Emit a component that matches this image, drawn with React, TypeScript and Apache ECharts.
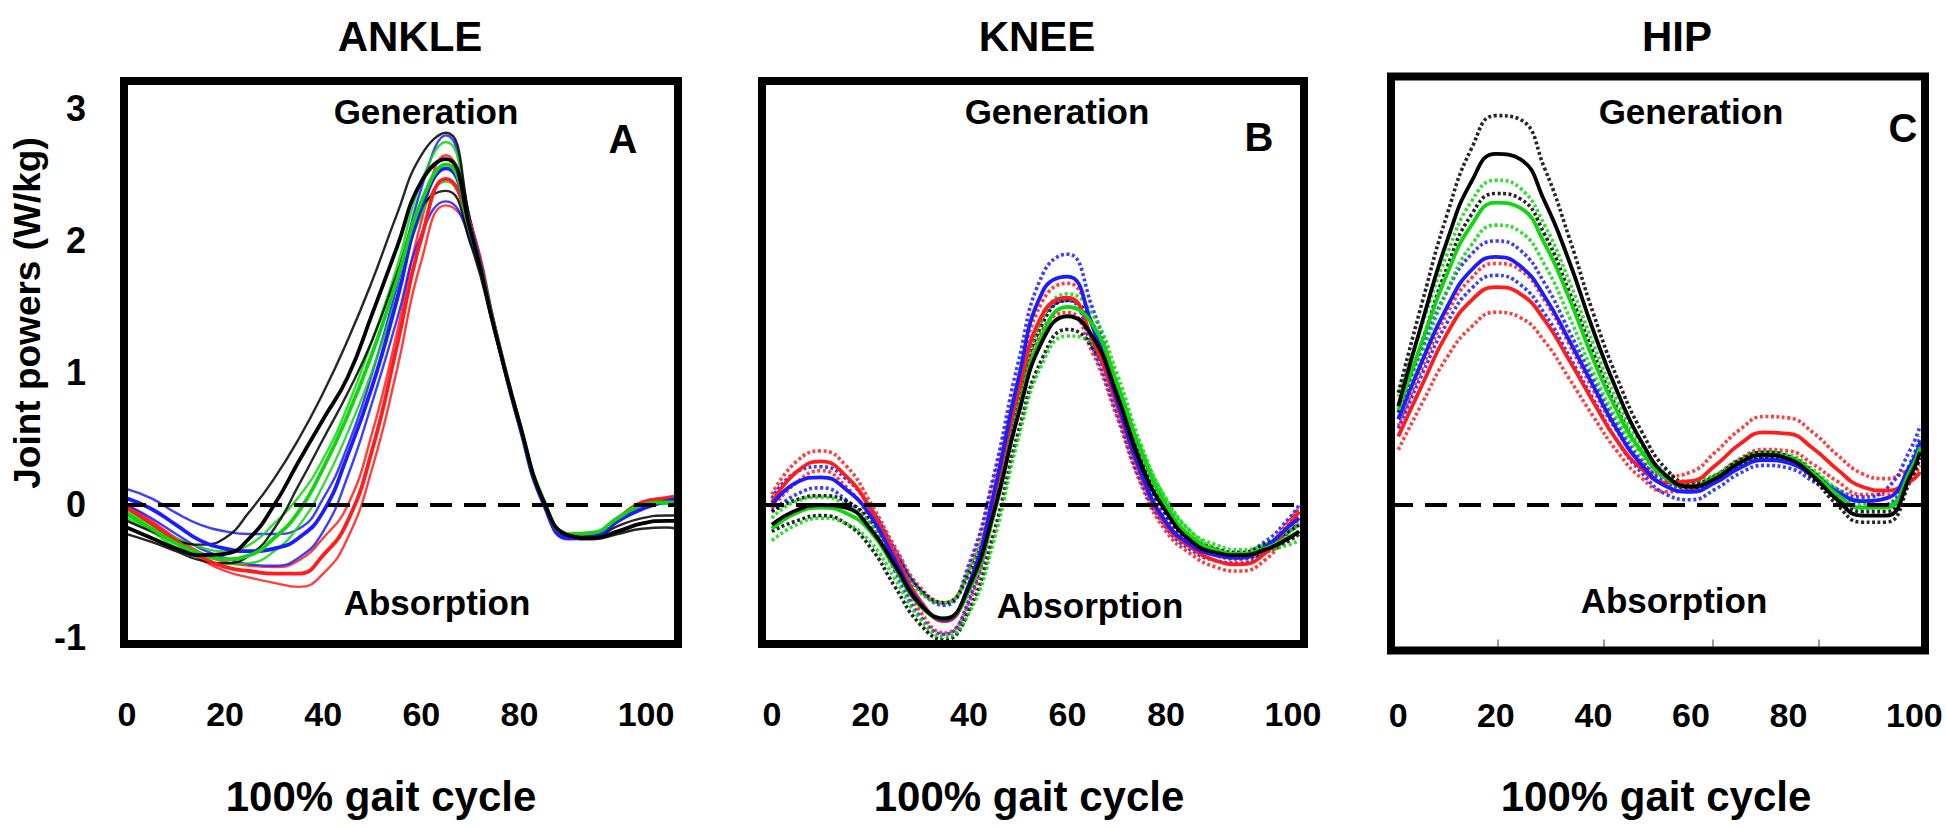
import React, { useEffect, useRef } from "react";
import * as echarts from "echarts";

// ---------- DATA ----------
const ankleX = [0, 5, 10, 15, 20, 25, 30, 35, 40, 45, 50, 55, 60, 65, 70, 75, 80, 85, 90, 95, 100, 105, 110, 112];
const kneeHipX = [0, 5, 10, 15, 20, 25, 30, 35, 40, 45, 50, 55, 60, 65, 70, 75, 80, 85, 90, 95, 100, 105, 107];

const xTickLabels = [0, 20, 40, 60, 80, 100];
const yTickLabels = [-1, 0, 1, 2, 3];
const hipInnerTicks = [20.3, 42.2, 64.4, 86.3];

const ankleBlackU = [-0.12, -0.2, -0.27, -0.3, -0.25, -0.05, 0.2, 0.5, 0.85, 1.25, 1.7, 2.2, 2.65, 2.82, 2.15, 1.35, 0.62, 0.03, -0.22, -0.24, -0.16, -0.1, -0.08, -0.08];
const ankleBlackM = [-0.17, -0.25, -0.33, -0.38, -0.37, -0.25, 0.0, 0.33, 0.65, 0.97, 1.45, 1.95, 2.45, 2.62, 2.08, 1.32, 0.62, 0.02, -0.23, -0.25, -0.2, -0.14, -0.12, -0.12];
const ankleBlackL = [-0.22, -0.28, -0.35, -0.42, -0.44, -0.38, -0.18, 0.15, 0.5, 0.85, 1.25, 1.75, 2.25, 2.38, 1.98, 1.3, 0.6, 0.02, -0.24, -0.26, -0.22, -0.18, -0.17, -0.18];
const ankleGreenU = [-0.05, -0.15, -0.25, -0.32, -0.35, -0.3, -0.14, 0.06, 0.35, 0.75, 1.25, 1.8, 2.45, 2.75, 2.12, 1.34, 0.62, 0.03, -0.22, -0.22, -0.12, -0.02, 0.03, 0.04];
const ankleGreenM = [-0.07, -0.18, -0.29, -0.37, -0.41, -0.38, -0.25, -0.05, 0.28, 0.68, 1.15, 1.7, 2.3, 2.58, 2.08, 1.33, 0.62, 0.03, -0.22, -0.21, -0.1, 0.0, 0.02, 0.02];
const ankleGreenL = [-0.1, -0.2, -0.32, -0.4, -0.45, -0.44, -0.35, -0.16, 0.15, 0.55, 1.02, 1.58, 2.2, 2.45, 2.05, 1.32, 0.62, 0.03, -0.23, -0.22, -0.11, -0.02, 0.01, 0.01];
const ankleBlueU = [0.12, 0.05, -0.06, -0.15, -0.2, -0.22, -0.22, -0.18, 0.05, 0.45, 1.0, 1.65, 2.4, 2.8, 2.15, 1.35, 0.6, 0.0, -0.25, -0.24, -0.12, -0.02, 0.04, 0.06];
const ankleBlueM = [0.05, -0.03, -0.15, -0.27, -0.33, -0.35, -0.33, -0.25, -0.05, 0.38, 0.9, 1.55, 2.25, 2.55, 2.1, 1.33, 0.6, 0.0, -0.25, -0.24, -0.12, -0.03, 0.03, 0.04];
const ankleBlueL = [0.0, -0.1, -0.22, -0.33, -0.4, -0.45, -0.46, -0.4, -0.2, 0.22, 0.78, 1.4, 2.05, 2.3, 2.0, 1.3, 0.6, 0.0, -0.26, -0.25, -0.13, -0.03, 0.03, 0.04];
const ankleRedU = [0.0, -0.12, -0.25, -0.36, -0.43, -0.46, -0.47, -0.42, -0.25, 0.0, 0.55, 1.3, 2.15, 2.65, 2.15, 1.35, 0.62, 0.02, -0.24, -0.22, -0.1, 0.02, 0.06, 0.07];
const ankleRedM = [-0.02, -0.14, -0.27, -0.39, -0.47, -0.5, -0.52, -0.52, -0.38, -0.12, 0.42, 1.2, 2.02, 2.47, 2.12, 1.34, 0.62, 0.02, -0.24, -0.22, -0.1, 0.02, 0.05, 0.06];
const ankleRedL = [-0.03, -0.15, -0.29, -0.41, -0.5, -0.55, -0.59, -0.62, -0.52, -0.25, 0.28, 1.02, 1.85, 2.27, 2.05, 1.32, 0.62, 0.02, -0.24, -0.22, -0.1, 0.01, 0.04, 0.05];

const kneeRedU = [0.08, 0.33, 0.41, 0.3, 0.02, -0.32, -0.62, -0.74, -0.48, 0.18, 0.95, 1.55, 1.68, 1.38, 0.85, 0.3, -0.1, -0.28, -0.38, -0.41, -0.33, -0.12, -0.02];
const kneeRedM = [0.02, 0.25, 0.33, 0.22, -0.03, -0.38, -0.72, -0.88, -0.62, 0.05, 0.85, 1.45, 1.57, 1.26, 0.76, 0.22, -0.15, -0.32, -0.42, -0.45, -0.37, -0.15, -0.05];
const kneeRedL = [-0.03, 0.17, 0.26, 0.14, -0.1, -0.45, -0.8, -0.97, -0.74, -0.08, 0.72, 1.33, 1.46, 1.16, 0.67, 0.15, -0.2, -0.37, -0.47, -0.5, -0.42, -0.2, -0.1];
const kneeBlueU = [0.05, 0.25, 0.29, 0.2, -0.02, -0.34, -0.64, -0.76, -0.45, 0.22, 1.08, 1.75, 1.9, 1.5, 0.9, 0.32, -0.08, -0.26, -0.34, -0.36, -0.28, -0.1, 0.0];
const kneeBlueM = [0.0, 0.17, 0.21, 0.12, -0.08, -0.42, -0.74, -0.87, -0.6, 0.08, 0.95, 1.62, 1.73, 1.36, 0.8, 0.24, -0.13, -0.3, -0.38, -0.4, -0.32, -0.16, -0.1];
const kneeBlueL = [-0.05, 0.08, 0.13, 0.04, -0.15, -0.5, -0.84, -0.98, -0.72, -0.05, 0.8, 1.42, 1.55, 1.2, 0.7, 0.17, -0.17, -0.34, -0.42, -0.44, -0.36, -0.2, -0.14];
const kneeGreenU = [-0.1, 0.03, 0.06, 0.0, -0.14, -0.4, -0.66, -0.74, -0.5, 0.05, 0.82, 1.42, 1.6, 1.45, 1.0, 0.45, 0.04, -0.2, -0.3, -0.34, -0.3, -0.2, -0.15];
const kneeGreenM = [-0.18, -0.06, -0.02, -0.06, -0.2, -0.48, -0.76, -0.86, -0.65, -0.08, 0.7, 1.3, 1.5, 1.37, 0.93, 0.4, 0.0, -0.24, -0.34, -0.37, -0.33, -0.24, -0.2];
const kneeGreenL = [-0.27, -0.15, -0.1, -0.14, -0.28, -0.56, -0.86, -1.0, -0.82, -0.28, 0.5, 1.08, 1.28, 1.22, 0.88, 0.42, 0.05, -0.2, -0.33, -0.37, -0.35, -0.3, -0.27];
const kneeBlackU = [-0.05, 0.04, 0.07, 0.03, -0.12, -0.38, -0.64, -0.74, -0.52, 0.02, 0.8, 1.38, 1.55, 1.38, 0.9, 0.35, -0.03, -0.24, -0.33, -0.36, -0.3, -0.2, -0.15];
const kneeBlackM = [-0.15, -0.04, 0.0, -0.02, -0.18, -0.46, -0.75, -0.86, -0.62, -0.06, 0.68, 1.25, 1.43, 1.28, 0.84, 0.3, -0.05, -0.27, -0.36, -0.38, -0.34, -0.25, -0.2];
const kneeBlackL = [-0.2, -0.12, -0.08, -0.14, -0.32, -0.62, -0.9, -1.02, -0.8, -0.22, 0.55, 1.12, 1.33, 1.2, 0.8, 0.3, -0.06, -0.28, -0.37, -0.4, -0.36, -0.27, -0.22];

const hipBlackU = [0.85, 1.55, 2.2, 2.7, 2.95, 2.92, 2.55, 2.03, 1.45, 0.95, 0.55, 0.27, 0.16, 0.22, 0.34, 0.4, 0.37, 0.25, 0.08, -0.05, -0.05, 0.28, 0.45];
const hipBlackM = [0.75, 1.4, 2.0, 2.45, 2.66, 2.62, 2.3, 1.85, 1.32, 0.85, 0.47, 0.22, 0.14, 0.2, 0.32, 0.38, 0.35, 0.22, 0.04, -0.08, -0.08, 0.22, 0.4];
const hipBlackL = [0.7, 1.25, 1.8, 2.2, 2.36, 2.32, 2.05, 1.62, 1.15, 0.72, 0.4, 0.2, 0.13, 0.19, 0.3, 0.36, 0.33, 0.2, 0.0, -0.13, -0.13, 0.18, 0.36];
const hipGreenU = [0.82, 1.38, 1.9, 2.3, 2.46, 2.4, 2.12, 1.7, 1.22, 0.78, 0.45, 0.24, 0.18, 0.23, 0.34, 0.4, 0.38, 0.27, 0.12, 0.02, 0.0, 0.25, 0.42];
const hipGreenM = [0.72, 1.25, 1.75, 2.12, 2.29, 2.25, 1.98, 1.57, 1.1, 0.7, 0.4, 0.2, 0.14, 0.21, 0.32, 0.38, 0.36, 0.24, 0.08, -0.02, -0.02, 0.26, 0.44];
const hipGreenL = [0.66, 1.15, 1.62, 1.97, 2.12, 2.07, 1.82, 1.43, 1.0, 0.64, 0.37, 0.2, 0.15, 0.22, 0.32, 0.38, 0.36, 0.25, 0.1, 0.0, 0.0, 0.25, 0.42];
const hipBlueU = [0.75, 1.2, 1.62, 1.9, 2.0, 1.93, 1.68, 1.32, 0.95, 0.6, 0.33, 0.17, 0.13, 0.2, 0.3, 0.35, 0.33, 0.24, 0.12, 0.06, 0.12, 0.42, 0.6];
const hipBlueM = [0.65, 1.1, 1.5, 1.78, 1.88, 1.81, 1.58, 1.25, 0.9, 0.56, 0.3, 0.14, 0.1, 0.17, 0.28, 0.34, 0.32, 0.22, 0.1, 0.03, 0.05, 0.3, 0.48];
const hipBlueL = [0.58, 1.0, 1.38, 1.64, 1.74, 1.67, 1.45, 1.13, 0.8, 0.48, 0.24, 0.08, 0.04, 0.12, 0.24, 0.3, 0.28, 0.18, 0.06, -0.02, 0.0, 0.32, 0.52];
const hipRedU = [0.6, 1.05, 1.45, 1.72, 1.83, 1.78, 1.55, 1.22, 0.87, 0.55, 0.32, 0.22, 0.25, 0.4, 0.57, 0.67, 0.66, 0.55, 0.38, 0.24, 0.2, 0.28, 0.34];
const hipRedM = [0.52, 0.92, 1.3, 1.55, 1.65, 1.6, 1.4, 1.1, 0.78, 0.48, 0.27, 0.17, 0.18, 0.3, 0.46, 0.55, 0.54, 0.43, 0.27, 0.14, 0.11, 0.18, 0.25];
const hipRedL = [0.42, 0.78, 1.12, 1.35, 1.46, 1.42, 1.24, 0.96, 0.67, 0.4, 0.2, 0.1, 0.12, 0.22, 0.35, 0.42, 0.41, 0.31, 0.18, 0.08, 0.08, 0.2, 0.3];

const panelTitles = ["ANKLE", "KNEE", "HIP"];
const panelLetters = ["A", "B", "C"];

// ---------- STYLE / LAYOUT ----------
const FONT = '"Liberation Sans", Arial, Helvetica, sans-serif';
const COL: Record<string, string> = { red: "#ff1c1c", blue: "#1c1cff", green: "#10d610", black: "#000000" };

type Kind = "thin" | "thick" | "dotted";
type LineDef = { name: string; y: number[]; color: string; kind: Kind };

const ankleLines: LineDef[] = [
  { name: "Ankle red upper", y: ankleRedU, color: "red", kind: "thin" },
  { name: "Ankle red lower", y: ankleRedL, color: "red", kind: "thin" },
  { name: "Ankle blue upper", y: ankleBlueU, color: "blue", kind: "thin" },
  { name: "Ankle blue lower", y: ankleBlueL, color: "blue", kind: "thin" },
  { name: "Ankle green upper", y: ankleGreenU, color: "green", kind: "thin" },
  { name: "Ankle green lower", y: ankleGreenL, color: "green", kind: "thin" },
  { name: "Ankle black upper", y: ankleBlackU, color: "black", kind: "thin" },
  { name: "Ankle black lower", y: ankleBlackL, color: "black", kind: "thin" },
  { name: "Ankle red mean", y: ankleRedM, color: "red", kind: "thick" },
  { name: "Ankle blue mean", y: ankleBlueM, color: "blue", kind: "thick" },
  { name: "Ankle green mean", y: ankleGreenM, color: "green", kind: "thick" },
  { name: "Ankle black mean", y: ankleBlackM, color: "black", kind: "thick" },
];

const kneeLines: LineDef[] = [
  { name: "Knee red upper", y: kneeRedU, color: "red", kind: "dotted" },
  { name: "Knee red lower", y: kneeRedL, color: "red", kind: "dotted" },
  { name: "Knee blue upper", y: kneeBlueU, color: "blue", kind: "dotted" },
  { name: "Knee blue lower", y: kneeBlueL, color: "blue", kind: "dotted" },
  { name: "Knee black upper", y: kneeBlackU, color: "black", kind: "dotted" },
  { name: "Knee black lower", y: kneeBlackL, color: "black", kind: "dotted" },
  { name: "Knee green upper", y: kneeGreenU, color: "green", kind: "dotted" },
  { name: "Knee green lower", y: kneeGreenL, color: "green", kind: "dotted" },
  { name: "Knee red mean", y: kneeRedM, color: "red", kind: "thick" },
  { name: "Knee blue mean", y: kneeBlueM, color: "blue", kind: "thick" },
  { name: "Knee green mean", y: kneeGreenM, color: "green", kind: "thick" },
  { name: "Knee black mean", y: kneeBlackM, color: "black", kind: "thick" },
];

const hipLines: LineDef[] = [
  { name: "Hip red upper", y: hipRedU, color: "red", kind: "dotted" },
  { name: "Hip red lower", y: hipRedL, color: "red", kind: "dotted" },
  { name: "Hip blue upper", y: hipBlueU, color: "blue", kind: "dotted" },
  { name: "Hip blue lower", y: hipBlueL, color: "blue", kind: "dotted" },
  { name: "Hip green upper", y: hipGreenU, color: "green", kind: "dotted" },
  { name: "Hip green lower", y: hipGreenL, color: "green", kind: "dotted" },
  { name: "Hip black upper", y: hipBlackU, color: "black", kind: "dotted" },
  { name: "Hip black lower", y: hipBlackL, color: "black", kind: "dotted" },
  { name: "Hip red mean", y: hipRedM, color: "red", kind: "thick" },
  { name: "Hip blue mean", y: hipBlueM, color: "blue", kind: "thick" },
  { name: "Hip green mean", y: hipGreenM, color: "green", kind: "thick" },
  { name: "Hip black mean", y: hipBlackM, color: "black", kind: "thick" },
];

const panels = [
  { xs: ankleX, lines: ankleLines, grid: { left: 124, top: 81, width: 554, height: 563 }, xMin: -0.6, xMax: 112.3, yMin: -1.053, yMax: 3.212, labelMargin: 53, innerTicks: false },
  { xs: kneeHipX, lines: kneeLines, grid: { left: 762, top: 81, width: 542, height: 563 }, xMin: -2, xMax: 108, yMin: -1.053, yMax: 3.212, labelMargin: 53, innerTicks: false },
  { xs: kneeHipX, lines: hipLines, grid: { left: 1391, top: 76.5, width: 534, height: 574 }, xMin: -1.5, xMax: 108, yMin: -1.102, yMax: 3.246, labelMargin: 47, innerTicks: true },
];

const titlePos = [[410, 36], [1037, 36], [1677, 36]];
const generationPos = [[426, 111], [1057, 111], [1691, 111]];
const absorptionPos = [[437, 602], [1090, 605], [1674, 600]];
const letterPos = [[623, 139], [1259, 137], [1903, 128]];
const xNamePos = [[381, 796], [1029, 796], [1656, 796]];

function lineStyleFor(kind: Kind, color: string) {
  const c = COL[color];
  if (kind === "thin") return { color: c, width: 2.4, opacity: 0.85 };
  if (kind === "thick") return { color: c, width: 3.8 };
  return { color: c, width: 3.6, type: [3, 2.5], cap: "butt", opacity: 0.85 };
}

function txt(text: string, x: number, y: number, size: number, extra: any = {}) {
  return {
    type: "text",
    x,
    y,
    z: 100,
    silent: true,
    ...extra,
    style: {
      text,
      fill: "#000",
      font: `bold ${size}px ${FONT}`,
      textAlign: "center",
      textVerticalAlign: "middle",
      align: "center",
      verticalAlign: "middle",
    },
  };
}

function buildOption() {
  const grid: any[] = [];
  const xAxis: any[] = [];
  const yAxis: any[] = [];
  const series: any[] = [];
  const graphic: any[] = [];

  panels.forEach((p, i) => {
    grid.push({
      ...p.grid,
      show: true,
      z: 10,
      borderColor: "#000",
      borderWidth: 8,
      backgroundColor: "transparent",
      containLabel: false,
      outerBoundsMode: "none",
    });
    xAxis.push({
      type: "value",
      gridIndex: i,
      min: p.xMin,
      max: p.xMax,
      axisLine: { show: false, onZero: false },
      splitLine: { show: false },
      axisTick: p.innerTicks
        ? { show: true, inside: true, length: 11, customValues: hipInnerTicks, lineStyle: { color: "#9a9a9a", width: 2 } }
        : { show: false },
      axisLabel: {
        show: true,
        customValues: xTickLabels,
        margin: p.labelMargin,
        color: "#000",
        fontSize: 34,
        fontWeight: "bold",
        fontFamily: FONT,
        alignMaxLabel: "left",
        showMinLabel: true,
        showMaxLabel: true,
      },
    });
    yAxis.push({
      type: "value",
      gridIndex: i,
      min: p.yMin,
      max: p.yMax,
      axisLine: { show: false, onZero: false },
      splitLine: { show: false },
      axisTick: { show: false },
      axisLabel: i === 0
        ? { show: true, customValues: yTickLabels, margin: 38, color: "#000", fontSize: 36, fontWeight: "bold", fontFamily: FONT }
        : { show: false },
    });

    p.lines.forEach((ln) => {
      series.push({
        type: "line",
        name: ln.name,
        xAxisIndex: i,
        yAxisIndex: i,
        data: p.xs.map((x, k) => [x, ln.y[k]]),
        smooth: true,
        symbol: "none",
        showSymbol: false,
        silent: true,
        z: ln.kind === "thick" ? 3 : 2,
        lineStyle: lineStyleFor(ln.kind, ln.color),
      });
    });

    series.push({
      type: "line",
      name: `${panelTitles[i]} zero`,
      xAxisIndex: i,
      yAxisIndex: i,
      data: [],
      z: 5,
      silent: true,
      markLine: {
        silent: true,
        symbol: ["none", "none"],
        label: { show: false },
        lineStyle: { color: "#000", width: 4, type: [22, 12] },
        data: [{ yAxis: 0 }],
      },
    });

    graphic.push(txt(panelTitles[i], titlePos[i][0], titlePos[i][1], 42));
    graphic.push(txt("Generation", generationPos[i][0], generationPos[i][1], 35));
    graphic.push(txt("Absorption", absorptionPos[i][0], absorptionPos[i][1], 35));
    graphic.push(txt(panelLetters[i], letterPos[i][0], letterPos[i][1], 40));
    graphic.push(txt("100% gait cycle", xNamePos[i][0], xNamePos[i][1], 42));
  });

  graphic.push(txt("Joint powers (W/kg)", 27, 313, 37, { rotation: Math.PI / 2 }));

  return {
    animation: false,
    backgroundColor: "#ffffff",
    textStyle: { fontFamily: FONT },
    grid,
    xAxis,
    yAxis,
    series,
    graphic: { elements: graphic },
  };
}

export default function App() {
  const ref = useRef<HTMLDivElement>(null);
  useEffect(() => {
    if (!ref.current) return;
    const chart = echarts.init(ref.current, null, { renderer: "svg" });
    chart.setOption(buildOption() as any);
    return () => chart.dispose();
  }, []);
  return (
    <div
      ref={ref}
      style={{ position: "absolute", left: 0, top: 0, width: 1946, height: 828, background: "#fff" }}
    />
  );
}
